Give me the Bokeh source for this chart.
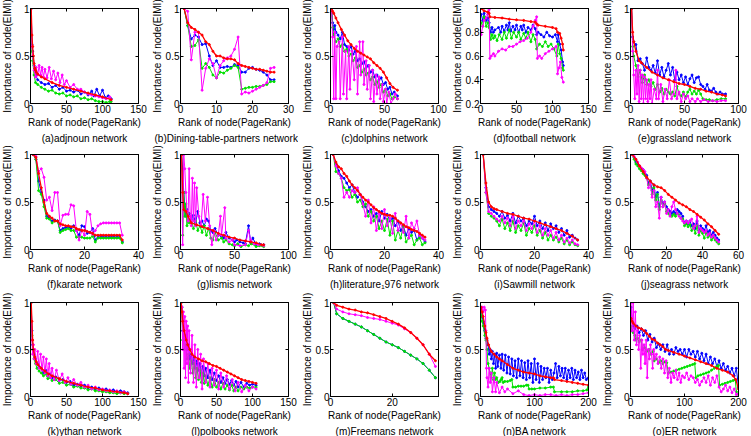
from bokeh.plotting import figure
from bokeh.layouts import gridplot
from bokeh.models import Range1d, FixedTicker, LinearAxis, Title, CustomJSTickFormatter
from bokeh.embed import file_html
from bokeh.resources import INLINE

FONT = "Liberation Sans"
C_BLUE, C_GREEN, C_MAG, C_RED = "#0000ff", "#00e000", "#ff00ff", "#ff0000"

# (a) adjnoun
adj_red_x = [1,2,3,4,5,6,7,8,10,15,20,30,40,50,60,70,80,90,100,112]
adj_red = [1.0,0.72,0.6,0.5,0.42,0.37,0.35,0.33,0.31,0.28,0.26,0.22,0.19,0.17,0.15,0.13,0.11,0.09,0.07,0.04]
adj_blue_x = [1,2,3,5,7,10,15,20,25,30,35,40,45,50,55,60,65,70,75,80,85,88,92,96,100,104,108,112]
adj_blue = [1.0,0.62,0.55,0.4,0.3,0.25,0.22,0.2,0.21,0.17,0.19,0.15,0.17,0.13,0.14,0.12,0.14,0.1,0.12,0.09,0.13,0.08,0.15,0.08,0.14,0.06,0.08,0.05]
adj_green_x = [1,2,3,5,7,10,15,20,25,30,35,40,45,50,55,60,65,70,75,80,85,90,95,100,105,110,112]
adj_green = [1.0,0.55,0.45,0.3,0.22,0.2,0.17,0.15,0.13,0.14,0.11,0.1,0.11,0.08,0.09,0.07,0.08,0.05,0.06,0.04,0.05,0.03,0.02,0.02,0.01,0.02,0.02]
adj_mag_x = [1,2,3,5,7,8,10,12,14,16,18,20,23,26,29,32,35,38,41,44,47,50,55,60,65,70,75,80,85,90,95,100,105,110,112]
adj_mag = [1.0,0.6,0.5,0.35,0.28,0.38,0.3,0.4,0.3,0.38,0.28,0.36,0.27,0.38,0.26,0.34,0.25,0.32,0.22,0.3,0.2,0.24,0.17,0.2,0.15,0.15,0.12,0.1,0.09,0.08,0.07,0.06,0.05,0.07,0.04]

# (b) Dining-table-partners
din_x = list(range(1, 27))
din_red = [1.0,0.85,0.8,0.78,0.75,0.72,0.65,0.62,0.55,0.5,0.5,0.48,0.47,0.47,0.46,0.42,0.4,0.39,0.38,0.37,0.36,0.36,0.35,0.34,0.33,0.33]
din_blue = [1.0,0.82,0.68,0.72,0.7,0.62,0.63,0.5,0.4,0.45,0.38,0.38,0.39,0.38,0.41,0.4,0.33,0.33,0.37,0.38,0.36,0.35,0.33,0.3,0.25,0.25]
din_green = [1.0,0.82,0.6,0.61,0.67,0.37,0.42,0.38,0.3,0.27,0.33,0.32,0.35,0.37,0.4,0.38,0.15,0.16,0.17,0.17,0.18,0.18,0.19,0.2,0.23,0.23]
din_mag = [1.0,0.97,0.46,0.75,0.75,0.14,0.37,0.47,0.42,0.27,0.4,0.45,0.48,0.5,0.57,0.7,0.1,0.12,0.11,0.13,0.15,0.17,0.19,0.22,0.37,0.38]

# (c) dolphins
dol_red_x = [1,2,3,5,7,10,13,16,19,22,25,28,31,34,37,40,43,46,49,52,55,58,62]
dol_red = [1.0,0.97,0.95,0.9,0.85,0.78,0.72,0.66,0.62,0.58,0.55,0.53,0.51,0.49,0.47,0.43,0.4,0.37,0.33,0.27,0.21,0.17,0.14]
dol_blue_x = [1,2,3,4,5,7,9,11,13,15,17,19,21,23,25,27,29,31,33,35,37,39,41,43,45,47,49,51,53,55,57,59,62]
dol_blue = [1.0,0.85,0.78,0.82,0.75,0.72,0.68,0.75,0.62,0.6,0.56,0.6,0.52,0.55,0.45,0.47,0.42,0.44,0.38,0.4,0.33,0.35,0.28,0.3,0.25,0.27,0.2,0.22,0.15,0.17,0.1,0.12,0.08]
dol_green_x = [1,2,3,5,7,9,11,13,15,17,19,21,23,25,27,29,31,33,35,37,39,41,43,45,47,49,51,53,55,57,59,62]
dol_green = [1.0,0.8,0.72,0.65,0.68,0.6,0.62,0.55,0.57,0.5,0.52,0.45,0.48,0.38,0.4,0.33,0.36,0.3,0.32,0.25,0.28,0.2,0.23,0.17,0.2,0.12,0.15,0.08,0.1,0.05,0.07,0.05]
dol_mag_x = [1,2,3,4,5,6,8,9,11,12,14,15,17,18,20,22,24,25,27,28,30,31,33,34,36,37,39,40,42,43,45,46,48,49,51,52,54,56,58,60,62]
dol_mag = [1.0,0.7,0.05,0.75,0.05,0.6,0.65,0.05,0.7,0.1,0.55,0.05,0.6,0.15,0.55,0.25,0.6,0.1,0.65,0.3,0.65,0.2,0.45,0.15,0.4,0.05,0.35,0.02,0.3,0.1,0.28,0.05,0.2,0.02,0.15,0.0,0.12,0.0,0.05,0.1,0.05]

# (d) football
fb_red_x = [1,5,10,12,13,20,30,40,50,60,70,76,78,80,90,100,105,107,110,112,114,115]
fb_red = [1.0,0.98,0.97,0.96,0.93,0.925,0.92,0.91,0.905,0.9,0.89,0.885,0.87,0.86,0.85,0.84,0.83,0.8,0.79,0.75,0.7,0.65]
fb_blue_x = [1,3,5,8,10,12,14,16,18,20,25,28,30,33,36,38,40,42,45,48,50,53,56,58,60,63,66,70,73,76,78,80,84,88,92,96,100,104,107,108,110,112,114,115]
fb_blue = [0.95,0.9,0.96,0.9,0.92,0.88,0.8,0.84,0.8,0.82,0.84,0.8,0.85,0.81,0.86,0.82,0.88,0.81,0.85,0.82,0.86,0.8,0.85,0.82,0.86,0.8,0.84,0.82,0.86,0.83,0.78,0.8,0.78,0.76,0.8,0.77,0.76,0.78,0.72,0.78,0.7,0.65,0.55,0.52]
fb_green_x = [1,3,5,8,10,12,14,16,18,20,23,26,30,33,36,40,43,46,50,53,56,60,63,66,70,73,76,78,82,86,90,94,98,102,106,108,110,112,114,115]
fb_green = [0.88,0.85,0.93,0.85,0.88,0.84,0.74,0.78,0.75,0.77,0.73,0.78,0.74,0.8,0.75,0.82,0.75,0.8,0.76,0.8,0.74,0.79,0.75,0.8,0.72,0.78,0.74,0.66,0.7,0.68,0.72,0.68,0.7,0.66,0.6,0.7,0.62,0.58,0.5,0.48]
fb_mag_x = [1,3,5,8,10,12,13,15,18,20,25,30,35,40,45,50,55,60,65,70,73,76,78,79,82,85,90,95,100,105,107,109,111,113,115]
fb_mag = [0.78,0.85,0.9,0.92,0.95,0.99,0.58,0.6,0.62,0.6,0.64,0.66,0.65,0.68,0.68,0.7,0.72,0.73,0.75,0.8,0.85,0.9,0.93,0.58,0.6,0.58,0.62,0.64,0.66,0.68,0.45,0.5,0.55,0.42,0.38]

# (e) grassland
gr_red_x = [1,2,3,5,8,10,15,20,25,30,35,40,45,50,55,60,65,70,75,80,85,88]
gr_red = [1.0,0.75,0.65,0.55,0.45,0.43,0.38,0.33,0.3,0.27,0.25,0.23,0.21,0.2,0.18,0.16,0.15,0.13,0.12,0.1,0.09,0.08]
gr_blue_x = [1,2,3,5,7,9,11,13,15,17,19,21,23,25,27,29,31,33,35,37,39,41,43,45,47,49,51,53,55,57,59,61,63,65,67,69,71,73,75,77,79,81,83,85,88]
gr_blue = [1.0,0.7,0.65,0.62,0.45,0.47,0.42,0.35,0.48,0.38,0.35,0.4,0.32,0.45,0.3,0.38,0.28,0.35,0.42,0.3,0.38,0.25,0.33,0.25,0.3,0.22,0.28,0.2,0.26,0.3,0.22,0.27,0.28,0.2,0.18,0.15,0.2,0.14,0.13,0.16,0.12,0.1,0.12,0.1,0.1]
gr_green_x = [1,2,3,5,7,9,11,13,15,17,19,21,23,25,27,29,31,33,35,37,39,41,43,45,47,49,51,53,55,57,59,61,63,65,67,70,73,76,80,84,88]
gr_green = [1.0,0.6,0.5,0.4,0.28,0.35,0.22,0.3,0.2,0.25,0.18,0.22,0.15,0.2,0.12,0.16,0.1,0.15,0.12,0.1,0.12,0.08,0.18,0.1,0.08,0.12,0.07,0.12,0.15,0.1,0.13,0.1,0.14,0.1,0.05,0.04,0.04,0.03,0.04,0.05,0.05]
gr_mag_x = [1,2,3,4,5,6,7,8,9,10,11,12,13,14,15,16,17,18,19,20,22,24,25,26,28,30,32,34,36,38,40,42,43,45,47,49,51,53,55,57,60,62,65,68,72,76,80,84,88]
gr_mag = [1.0,0.55,0.3,0.05,0.35,0.1,0.4,0.02,0.35,0.05,0.3,0.0,0.28,0.05,0.25,0.02,0.2,0.05,0.25,0.0,0.15,0.05,0.35,0.05,0.2,0.02,0.15,0.05,0.25,0.05,0.1,0.35,0.05,0.12,0.02,0.1,0.05,0.08,0.02,0.05,0.02,0.05,0.02,0.04,0.02,0.03,0.02,0.03,0.03]

# (f) karate
kar_x = list(range(1, 35))
kar_red = [1.0,0.97,0.8,0.65,0.5,0.38,0.35,0.33,0.3,0.3,0.27,0.26,0.25,0.25,0.24,0.24,0.22,0.21,0.2,0.2,0.19,0.18,0.17,0.15,0.15,0.15,0.15,0.15,0.15,0.15,0.15,0.15,0.15,0.1]
kar_blue = [1.0,0.95,0.72,0.6,0.52,0.35,0.33,0.3,0.31,0.3,0.2,0.22,0.23,0.24,0.22,0.25,0.2,0.15,0.25,0.24,0.17,0.18,0.22,0.1,0.13,0.13,0.13,0.13,0.13,0.13,0.13,0.13,0.13,0.08]
kar_green = [1.0,0.95,0.62,0.58,0.45,0.33,0.32,0.28,0.3,0.3,0.18,0.2,0.21,0.22,0.2,0.2,0.13,0.13,0.13,0.12,0.12,0.12,0.14,0.08,0.12,0.12,0.12,0.12,0.12,0.12,0.12,0.12,0.12,0.07]
kar_mag = [1.0,0.98,0.82,0.85,0.76,0.52,0.55,0.41,0.6,0.6,0.25,0.36,0.37,0.37,0.47,0.46,0.2,0.1,0.2,0.15,0.4,0.37,0.16,0.2,0.25,0.27,0.28,0.28,0.28,0.28,0.28,0.28,0.28,0.15]

# (g) lismis
lis_red_x = [1,2,3,5,7,10,15,20,25,30,35,40,45,50,55,60,65,70,75,77]
lis_red = [1.0,0.6,0.42,0.4,0.35,0.28,0.26,0.24,0.22,0.2,0.17,0.15,0.13,0.12,0.1,0.09,0.08,0.07,0.05,0.05]
lis_blue_x = [1,2,3,4,5,6,7,8,10,12,14,16,18,20,22,24,26,28,30,32,35,38,40,42,45,48,50,52,55,58,60,63,65,67,70,73,77]
lis_blue = [1.0,0.85,0.6,0.45,0.35,0.42,0.3,0.38,0.32,0.36,0.28,0.4,0.28,0.3,0.25,0.32,0.3,0.2,0.18,0.22,0.15,0.14,0.12,0.18,0.12,0.1,0.08,0.1,0.08,0.07,0.06,0.25,0.07,0.12,0.05,0.06,0.05]
lis_green_x = [1,2,3,4,5,6,7,8,10,12,14,16,18,20,22,24,26,28,30,32,35,38,40,42,45,48,50,53,56,60,63,66,70,73,77]
lis_green = [1.0,0.15,0.6,0.35,0.48,0.25,0.38,0.28,0.3,0.22,0.3,0.2,0.25,0.18,0.25,0.15,0.22,0.12,0.1,0.18,0.1,0.12,0.08,0.1,0.06,0.05,0.04,0.06,0.03,0.05,0.04,0.06,0.03,0.04,0.03]
lis_mag_x = [1,2,3,4,5,6,7,8,9,10,11,12,13,14,15,17,19,21,23,25,27,29,31,33,35,37,38,41,42,45,48,50,55,60,63,65,68,72,77]
lis_mag = [1.0,0.05,1.0,0.85,0.6,0.4,0.3,0.85,0.35,0.25,0.75,0.3,0.7,0.25,0.65,0.35,0.25,0.58,0.3,0.55,0.25,0.05,0.2,0.1,0.15,0.35,0.15,0.44,0.12,0.08,0.1,0.05,0.04,0.05,0.2,0.1,0.06,0.05,0.04]

# (h) literature_1976
lit_x = list(range(1, 36))
lit_red = [1.0,0.92,0.87,0.85,0.8,0.77,0.72,0.68,0.65,0.62,0.58,0.55,0.52,0.5,0.47,0.44,0.42,0.4,0.38,0.37,0.36,0.36,0.35,0.33,0.3,0.28,0.26,0.24,0.23,0.21,0.2,0.19,0.17,0.15,0.13]
lit_blue = [1.0,0.9,0.83,0.77,0.75,0.7,0.65,0.68,0.6,0.55,0.58,0.5,0.45,0.4,0.42,0.35,0.38,0.3,0.4,0.33,0.37,0.3,0.33,0.25,0.3,0.2,0.25,0.15,0.22,0.18,0.2,0.1,0.15,0.12,0.08]
lit_green = [1.0,0.82,0.8,0.75,0.65,0.62,0.63,0.55,0.58,0.5,0.52,0.45,0.48,0.35,0.4,0.3,0.35,0.22,0.3,0.2,0.32,0.15,0.3,0.1,0.2,0.12,0.25,0.08,0.12,0.15,0.05,0.1,0.12,0.05,0.07]
lit_mag = [1.0,0.88,0.8,0.75,0.55,0.6,0.55,0.62,0.6,0.65,0.58,0.48,0.35,0.52,0.28,0.45,0.2,0.38,0.22,0.42,0.25,0.33,0.17,0.38,0.2,0.28,0.18,0.35,0.12,0.28,0.22,0.3,0.15,0.12,0.1]

# (i) Sawmill
saw_x = list(range(1, 37))
saw_red_x = [1,2,3,4,5,6,8,10,12,14,16,18,20,22,24,26,28,30,32,34,36]
saw_red = [1.0,0.7,0.5,0.45,0.43,0.42,0.4,0.38,0.37,0.35,0.33,0.32,0.3,0.28,0.26,0.24,0.22,0.2,0.17,0.14,0.1]
saw_blue = [1.0,0.65,0.45,0.42,0.4,0.38,0.35,0.4,0.33,0.36,0.3,0.38,0.28,0.35,0.3,0.33,0.25,0.3,0.27,0.35,0.25,0.3,0.22,0.28,0.2,0.27,0.22,0.25,0.18,0.22,0.15,0.2,0.13,0.15,0.12,0.1]
saw_green = [1.0,0.6,0.38,0.35,0.33,0.3,0.25,0.32,0.22,0.28,0.2,0.3,0.18,0.25,0.2,0.28,0.15,0.22,0.18,0.25,0.15,0.2,0.12,0.18,0.1,0.15,0.1,0.13,0.08,0.12,0.06,0.1,0.05,0.08,0.05,0.04]
saw_mag = [1.0,0.6,0.4,0.38,0.35,0.32,0.3,0.35,0.28,0.33,0.25,0.35,0.22,0.3,0.25,0.3,0.2,0.27,0.22,0.3,0.18,0.25,0.15,0.22,0.15,0.2,0.12,0.18,0.1,0.15,0.08,0.12,0.07,0.1,0.06,0.05]

# (j) seagrass
sea_x = list(range(1, 50))
sea_red_x = [1,3,5,7,9,11,13,15,17,19,21,23,25,27,29,31,33,35,37,39,41,43,45,47,49]
sea_red = [1.0,0.95,0.88,0.82,0.76,0.72,0.68,0.66,0.65,0.62,0.58,0.55,0.52,0.49,0.47,0.45,0.42,0.4,0.37,0.34,0.31,0.27,0.24,0.2,0.16]
sea_blue = [1.0,0.97,0.92,0.9,0.88,0.85,0.84,0.8,0.78,0.7,0.72,0.62,0.68,0.55,0.6,0.45,0.55,0.48,0.5,0.45,0.42,0.4,0.38,0.4,0.38,0.42,0.4,0.38,0.35,0.28,0.3,0.27,0.3,0.25,0.27,0.22,0.3,0.2,0.25,0.22,0.2,0.25,0.18,0.2,0.15,0.18,0.15,0.12,0.1]
sea_green = [1.0,0.95,0.9,0.88,0.85,0.83,0.8,0.78,0.75,0.68,0.7,0.58,0.65,0.52,0.58,0.42,0.52,0.45,0.48,0.4,0.38,0.36,0.35,0.37,0.35,0.38,0.36,0.33,0.32,0.25,0.27,0.24,0.26,0.2,0.24,0.17,0.25,0.15,0.2,0.17,0.12,0.18,0.13,0.15,0.1,0.13,0.1,0.08,0.06]
sea_mag = [1.0,0.98,0.95,0.92,0.88,0.86,0.84,0.82,0.75,0.65,0.7,0.55,0.62,0.45,0.5,0.33,0.55,0.45,0.5,0.38,0.42,0.35,0.45,0.5,0.42,0.38,0.35,0.33,0.3,0.28,0.3,0.28,0.3,0.32,0.22,0.25,0.35,0.18,0.22,0.2,0.18,0.2,0.15,0.17,0.13,0.15,0.12,0.1,0.08]

# (k) ythan
yth_red_x = [1,2,3,4,6,8,10,15,20,25,30,40,50,60,70,80,90,100,110,120,130,135]
yth_red = [1.0,0.8,0.6,0.5,0.42,0.37,0.34,0.3,0.27,0.24,0.22,0.19,0.16,0.14,0.12,0.1,0.09,0.07,0.06,0.05,0.04,0.03]
yth_x = [1,2,3,5,7,9,12,15,18,21,24,27,30,35,40,45,50,55,60,65,70,75,80,85,90,95,100,105,110,115,120,125,130,135]
yth_blue = [1.0,0.7,0.55,0.45,0.4,0.35,0.32,0.3,0.25,0.28,0.22,0.24,0.2,0.21,0.17,0.18,0.15,0.16,0.12,0.13,0.11,0.12,0.09,0.1,0.08,0.09,0.07,0.08,0.06,0.07,0.05,0.06,0.05,0.04]
yth_green = [1.0,0.65,0.5,0.4,0.35,0.3,0.27,0.25,0.22,0.24,0.19,0.2,0.17,0.18,0.14,0.15,0.12,0.13,0.1,0.11,0.09,0.09,0.07,0.08,0.06,0.06,0.05,0.05,0.04,0.04,0.03,0.04,0.03,0.03]
yth_mag_x = [1,2,3,4,5,6,8,10,12,14,16,18,20,22,24,26,28,30,33,36,40,44,48,52,56,60,65,70,75,80,85,90,95,100,105,110,115,120,125,130,135]
yth_mag = [1.0,0.6,0.45,0.55,0.4,0.5,0.35,0.48,0.3,0.45,0.28,0.42,0.25,0.4,0.22,0.35,0.2,0.3,0.18,0.28,0.17,0.24,0.15,0.2,0.13,0.18,0.12,0.15,0.1,0.12,0.08,0.1,0.07,0.08,0.06,0.07,0.05,0.06,0.04,0.05,0.03]

# (l) polbooks
pol_red_x = [1,2,3,5,8,10,13,16,20,25,30,35,40,45,50,55,60,65,70,75,80,85,90,95,100,105]
pol_red = [1.0,0.9,0.8,0.7,0.6,0.55,0.5,0.45,0.42,0.4,0.38,0.37,0.35,0.33,0.32,0.3,0.28,0.26,0.24,0.22,0.2,0.18,0.17,0.16,0.15,0.14]
pol_x = [1,2,3,4,5,7,9,11,13,15,17,19,21,23,25,27,29,31,33,35,38,41,44,47,50,53,56,59,62,65,68,71,74,77,80,84,88,92,96,100,105]
pol_blue = [1.0,0.95,0.7,0.8,0.6,0.65,0.5,0.55,0.4,0.45,0.35,0.42,0.3,0.38,0.28,0.35,0.25,0.32,0.22,0.3,0.2,0.28,0.18,0.25,0.17,0.22,0.15,0.2,0.14,0.18,0.13,0.17,0.12,0.16,0.1,0.15,0.1,0.14,0.12,0.13,0.12]
pol_green = [1.0,0.9,0.6,0.7,0.5,0.55,0.4,0.45,0.3,0.38,0.25,0.35,0.2,0.3,0.18,0.28,0.15,0.25,0.14,0.22,0.12,0.2,0.1,0.18,0.1,0.15,0.08,0.14,0.08,0.12,0.07,0.12,0.06,0.1,0.06,0.1,0.08,0.1,0.09,0.1,0.1]
pol_mag_x = [1,2,3,4,5,6,7,8,9,10,11,12,14,16,18,20,22,24,26,28,30,32,35,38,41,44,47,50,53,56,60,64,68,72,76,80,85,90,95,100,105]
pol_mag = [1.0,0.95,0.5,0.9,0.3,0.85,0.2,0.8,0.35,0.75,0.15,0.7,0.25,0.65,0.15,0.55,0.1,0.5,0.2,0.45,0.08,0.4,0.15,0.35,0.1,0.3,0.12,0.28,0.08,0.25,0.1,0.22,0.08,0.18,0.06,0.15,0.05,0.12,0.06,0.1,0.08]

# (m) Freemans
fre_x = [1,2,4,6,8,10,12,14,16,18,20,22,24,26,28,30,32,34]
fre_red = [1.0,0.97,0.95,0.93,0.92,0.9,0.89,0.87,0.85,0.83,0.8,0.77,0.73,0.68,0.62,0.55,0.45,0.38]
fre_mag = [1.0,0.93,0.9,0.88,0.87,0.86,0.84,0.83,0.82,0.8,0.78,0.76,0.72,0.68,0.62,0.55,0.45,0.32]
fre_green = [1.0,0.88,0.83,0.8,0.77,0.74,0.7,0.66,0.62,0.58,0.55,0.52,0.48,0.44,0.4,0.35,0.28,0.2]
fre_blue = [1.0,0.88,0.83,0.8,0.77,0.74,0.7,0.66,0.62,0.58,0.55,0.52,0.48,0.44,0.4,0.35,0.28,0.2]

# (n) BA
ba_red_x = [1,3,5,8,10,12,15,20,25,30,35,40,50,60,70,80,90,100,110,120,130,135,137,150,160,170,180,190,200]
ba_red = [0.95,0.9,0.85,0.75,0.68,0.62,0.55,0.48,0.45,0.42,0.4,0.38,0.34,0.3,0.28,0.26,0.25,0.24,0.22,0.21,0.2,0.2,0.18,0.17,0.16,0.15,0.14,0.13,0.12]
ba_blue_x = [1,3,5,8,10,12,14,16,18,20,22,24,26,28,30,32,35,38,40,43,46,49,52,55,58,61,64,67,70,73,76,79,82,85,88,91,94,97,100,103,106,109,112,115,118,121,124,127,130,133,136,139,142,145,148,151,154,157,160,163,166,169,172,175,178,181,184,187,190,193,196,200]
ba_blue = [0.95,0.85,0.8,0.7,0.62,0.6,0.55,0.45,0.5,0.4,0.48,0.35,0.45,0.3,0.46,0.32,0.44,0.3,0.45,0.28,0.44,0.25,0.42,0.24,0.4,0.22,0.38,0.2,0.4,0.22,0.38,0.2,0.36,0.18,0.38,0.2,0.35,0.15,0.4,0.18,0.35,0.15,0.32,0.18,0.3,0.2,0.3,0.15,0.28,0.18,0.25,0.35,0.2,0.32,0.22,0.3,0.2,0.3,0.18,0.28,0.2,0.3,0.18,0.28,0.2,0.26,0.18,0.28,0.2,0.25,0.18,0.2]
ba_green_x = [1,3,5,8,10,12,14,16,18,20,22,24,26,28,30,33,36,38,40,42,45,50,55,58,60,65,70,75,80,85,88,90,95,100,110,120,130,135,137,150,160,170,180,190,197,200]
ba_green = [0.9,0.8,0.75,0.65,0.6,0.5,0.35,0.3,0.25,0.2,0.3,0.18,0.25,0.18,0.2,0.15,0.16,0.18,0.2,0.15,0.16,0.16,0.17,0.18,0.1,0.1,0.11,0.11,0.11,0.12,0.12,0.08,0.08,0.08,0.09,0.09,0.1,0.1,0.05,0.05,0.05,0.05,0.06,0.06,0.07,0.1]
ba_mag_x = [1,3,5,7,9,10,11,12,14,16,18,20,22,25,28,30,35,40,45,50,60,70,80,90,100,110,120,130,140,150,160,170,180,190,200]
ba_mag = [0.9,0.95,0.9,0.95,0.92,0.7,0.3,0.2,0.1,0.3,0.15,0.25,0.05,0.2,0.05,0.15,0.04,0.1,0.05,0.08,0.03,0.06,0.02,0.01,0.02,0.01,0.02,0.02,0.01,0.02,0.01,0.02,0.02,0.03,0.04]

# (o) ER
er_red_x = [1,3,5,10,15,20,25,30,35,40,45,50,55,60,65,70,80,90,100,110,120,130,140,150,160,170,180,190,195,200]
er_red = [0.83,0.8,0.78,0.75,0.73,0.72,0.7,0.67,0.64,0.61,0.6,0.57,0.55,0.53,0.5,0.49,0.47,0.45,0.43,0.41,0.39,0.37,0.35,0.33,0.3,0.28,0.26,0.22,0.18,0.08]
er_blue_x = [1,3,5,8,12,16,20,24,28,32,36,40,44,48,52,56,60,64,68,72,76,80,84,88,92,96,100,104,108,112,116,120,124,128,132,136,140,144,148,152,156,160,164,168,172,176,180,184,188,192,196,200]
er_blue = [0.95,0.8,0.75,0.72,0.75,0.68,0.72,0.65,0.7,0.6,0.66,0.58,0.62,0.52,0.56,0.5,0.55,0.48,0.55,0.45,0.5,0.45,0.52,0.48,0.5,0.45,0.5,0.42,0.5,0.45,0.48,0.42,0.48,0.4,0.46,0.38,0.45,0.35,0.42,0.35,0.4,0.32,0.38,0.3,0.35,0.28,0.32,0.25,0.3,0.22,0.3,0.1]
er_green_x = [1,3,5,8,10,13,16,20,22,26,30,34,38,42,44,48,52,56,60,64,67,70,75,80,85,90,95,100,105,110,115,119,121,125,130,135,140,145,150,155,160,163,165,170,175,180,185,190,194,196,200]
er_green = [0.75,0.7,0.68,0.65,0.6,0.62,0.58,0.6,0.5,0.52,0.48,0.5,0.45,0.48,0.38,0.4,0.36,0.38,0.35,0.37,0.36,0.25,0.26,0.27,0.28,0.29,0.3,0.31,0.32,0.33,0.34,0.35,0.2,0.22,0.23,0.24,0.25,0.26,0.28,0.3,0.32,0.33,0.12,0.13,0.14,0.15,0.16,0.17,0.18,0.05,0.02]
er_mag_x = [1,3,5,7,9,11,13,15,17,19,21,23,25,27,29,31,33,35,37,39,41,43,45,48,51,54,57,60,63,66,69,72,75,78,81,84,87,90,93,96,100,104,108,112,116,120,124,128,132,136,140,144,148,152,156,160,164,168,172,176,180,184,188,192,196,200]
er_mag = [1.0,0.7,1.0,0.6,0.9,0.55,0.7,0.5,0.65,0.3,0.6,0.45,0.55,0.35,0.6,0.2,0.5,0.4,0.55,0.45,0.3,0.5,0.4,0.45,0.35,0.42,0.3,0.4,0.25,0.38,0.2,0.3,0.15,0.25,0.2,0.28,0.18,0.25,0.15,0.22,0.2,0.25,0.18,0.22,0.2,0.15,0.18,0.12,0.16,0.2,0.15,0.22,0.12,0.2,0.15,0.22,0.1,0.05,0.08,0.12,0.06,0.1,0.04,0.08,0.02,0.03]

Y01 = [0, 0.5, 1]
panels = [
    ("(a)adjnoun network", 150, [0, 50, 100, 150], 0, Y01,
     [(adj_blue_x, adj_blue), (adj_green_x, adj_green), (adj_mag_x, adj_mag), (adj_red_x, adj_red)]),
    ("(b)Dining-table-partners network", 30, [0, 10, 20, 30], 0, Y01,
     [(din_x, din_blue), (din_x, din_green), (din_x, din_mag), (din_x, din_red)]),
    ("(c)dolphins network", 100, [0, 50, 100], 0, Y01,
     [(dol_blue_x, dol_blue), (dol_green_x, dol_green), (dol_mag_x, dol_mag), (dol_red_x, dol_red)]),
    ("(d)football network", 150, [0, 50, 100, 150], 0.2, [0.2, 0.4, 0.6, 0.8, 1],
     [(fb_blue_x, fb_blue), (fb_green_x, fb_green), (fb_mag_x, fb_mag), (fb_red_x, fb_red)]),
    ("(e)grassland network", 100, [0, 50, 100], 0, Y01,
     [(gr_blue_x, gr_blue), (gr_green_x, gr_green), (gr_mag_x, gr_mag), (gr_red_x, gr_red)]),
    ("(f)karate network", 40, [0, 20, 40], 0, Y01,
     [(kar_x, kar_blue), (kar_x, kar_green), (kar_x, kar_mag), (kar_x, kar_red)]),
    ("(g)lismis network", 100, [0, 50, 100], 0, Y01,
     [(lis_blue_x, lis_blue), (lis_green_x, lis_green), (lis_mag_x, lis_mag), (lis_red_x, lis_red)]),
    ("(h)literature\u2081976 network", 40, [0, 20, 40], 0, Y01,
     [(lit_x, lit_blue), (lit_x, lit_green), (lit_x, lit_mag), (lit_x, lit_red)]),
    ("(i)Sawmill network", 40, [0, 20, 40], 0, Y01,
     [(saw_x, saw_blue), (saw_x, saw_green), (saw_x, saw_mag), (saw_red_x, saw_red)]),
    ("(j)seagrass network", 60, [0, 20, 40, 60], 0, Y01,
     [(sea_x, sea_blue), (sea_x, sea_green), (sea_x, sea_mag), (sea_red_x, sea_red)]),
    ("(k)ythan network", 150, [0, 50, 100, 150], 0, Y01,
     [(yth_x, yth_blue), (yth_x, yth_green), (yth_mag_x, yth_mag), (yth_red_x, yth_red)]),
    ("(l)polbooks network", 150, [0, 50, 100, 150], 0, Y01,
     [(pol_x, pol_blue), (pol_x, pol_green), (pol_mag_x, pol_mag), (pol_red_x, pol_red)]),
    ("(m)Freemans network", 35, [0, 20], 0, Y01,
     [(fre_x, fre_blue), (fre_x, fre_green), (fre_x, fre_mag), (fre_x, fre_red)]),
    ("(n)BA network", 200, [0, 100, 200], 0, Y01,
     [(ba_blue_x, ba_blue), (ba_green_x, ba_green), (ba_mag_x, ba_mag), (ba_red_x, ba_red)]),
    ("(o)ER network", 200, [0, 100, 200], 0, Y01,
     [(er_blue_x, er_blue), (er_green_x, er_green), (er_mag_x, er_mag), (er_red_x, er_red)]),
]
colors = [C_BLUE, C_GREEN, C_MAG, C_RED]
widths = [1, 1, 1, 1.3]
row_heights = [146, 146, 144]
row_tops = [8, 8, 10]

fmt_code = "return String(Math.round(tick*100)/100);"


def style_axis(ax, ticks, labels=True):
    ax.ticker = FixedTicker(ticks=ticks)
    ax.major_tick_in = 3
    ax.major_tick_out = 0
    ax.minor_tick_line_color = None
    ax.axis_line_color = "black"
    ax.major_tick_line_color = "black"
    ax.major_label_text_font = FONT
    ax.axis_label_text_font = FONT
    ax.axis_label_text_font_size = "10px"
    ax.axis_label_text_font_style = "normal"
    ax.axis_label_text_color = "black"
    ax.formatter = CustomJSTickFormatter(code=fmt_code)
    if labels:
        ax.major_label_text_font_size = "10px"
        ax.major_label_text_color = "black"
        ax.major_label_standoff = 1
    else:
        ax.major_label_text_font_size = "1px"
        ax.major_label_text_color = None
        ax.major_label_standoff = 0


figs = []
for i, (cap, xmax, xt, ymin, yt, series) in enumerate(panels):
    row = i // 5
    h = row_heights[row]
    bt = row_tops[row]
    p = figure(width=150, height=h, x_range=Range1d(0, xmax), y_range=Range1d(ymin, 1),
               output_backend="svg", toolbar_location=None, tools="",
               min_border_left=31, min_border_right=10, min_border_top=bt,
               min_border_bottom=h - bt - 95)
    p.background_fill_color = "white"
    p.border_fill_color = "white"
    p.outline_line_color = "black"
    p.outline_line_width = 1
    p.xgrid.grid_line_color = None
    p.ygrid.grid_line_color = None
    style_axis(p.xaxis[0], xt)
    style_axis(p.yaxis[0], yt)
    p.xaxis[0].axis_label = "Rank of node(PageRank)"
    p.xaxis[0].axis_label_standoff = 1
    p.yaxis[0].axis_label = "Importance of node(EIMI)"
    p.yaxis[0].axis_label_standoff = 0
    top = LinearAxis()
    style_axis(top, xt, labels=False)
    p.add_layout(top, "above")
    right = LinearAxis()
    style_axis(right, yt, labels=False)
    p.add_layout(right, "right")
    for (xs, ys), c, w in zip(series, colors, widths):
        p.line(xs, ys, line_color=c, line_width=w)
        p.scatter(xs, ys, size=2, marker="circle", fill_color=c, line_color=c)
    if i == 1:
        ttl = Title(text=cap, align="left", offset=-26, text_font=FONT, text_font_size="10px",
                    text_font_style="normal", text_color="black", standoff=0)
    else:
        ttl = Title(text=cap, align="center", text_font=FONT, text_font_size="10px",
                    text_font_style="normal", text_color="black", standoff=0)
    p.add_layout(ttl, "below")
    figs.append(p)

grid = gridplot([figs[0:5], figs[5:10], figs[10:15]], toolbar_location=None)
grid.styles = {"margin-left": "-2px"}

open("out.html", "w").write(file_html(grid, INLINE))
